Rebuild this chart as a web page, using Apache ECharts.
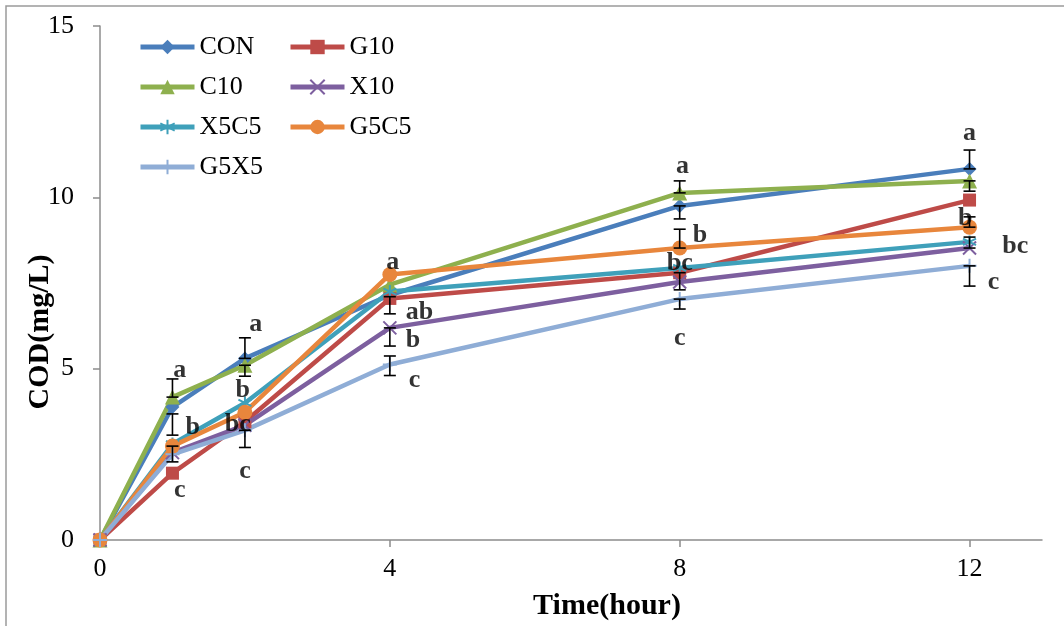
<!DOCTYPE html>
<html><head><meta charset="utf-8">
<script src="https://cdn.jsdelivr.net/npm/echarts@6/dist/echarts.min.js"></script>
<style>html,body{margin:0;padding:0;background:#fff}#c{width:1064px;height:626px}</style>
</head><body><div id="c"></div>
<script>
const times = [0, 1, 2, 4, 8, 12];
const seriesNames = ['CON','G10','C10','X10','X5C5','G5C5','G5X5'];
const CON  = [0, 3.88, 5.30, 7.15, 9.75, 10.83];
const G10  = [0, 1.95, 3.45, 7.05, 7.80, 9.92];
const C10  = [0, 4.17, 5.10, 7.45, 10.13, 10.48];
const X10  = [0, 2.55, 3.35, 6.19, 7.53, 8.52];
const X5C5 = [0, 2.80, 4.00, 7.25, 7.94, 8.70];
const G5C5 = [0, 2.74, 3.73, 7.75, 8.52, 9.13];
const G5X5 = [0, 2.50, 3.20, 5.12, 7.03, 8.00];
// error bars: [time, low, high]
const errorBars = [
  [1, 4.17, 4.70], [1, 3.06, 3.68], [1, 2.28, 2.74],
  [2, 5.30, 5.90], [2, 4.78, 5.10], [2, 2.70, 3.20],
  [4, 6.60, 7.10], [4, 5.66, 6.19], [4, 4.80, 5.37],
  [8, 10.13, 10.48], [8, 9.37, 9.75], [8, 8.52, 9.07], [8, 7.30, 7.80], [8, 6.74, 7.03],
  [12, 10.83, 11.38], [12, 10.18, 10.48], [12, 9.13, 9.43], [12, 8.52, 8.84], [12, 7.41, 8.00]
];
// significance letters: [time, value, text]
const letters = [
  [1.10, 4.96, 'a'], [1.28, 3.30, 'b'], [1.10, 1.46, 'c'],
  [2.15, 6.30, 'a'], [1.97, 4.38, 'b'], [1.90, 3.38, 'bc'], [2.00, 2.01, 'c'],
  [4.04, 8.11, 'a'], [4.41, 6.65, 'ab'], [4.32, 5.84, 'b'], [4.34, 4.67, 'c'],
  [8.04, 10.91, 'a'], [8.28, 8.90, 'b'], [8.00, 8.08, 'bc'], [8.00, 5.89, 'c'],
  [12.00, 11.88, 'a'], [11.94, 9.40, 'b'], [12.63, 8.58, 'bc'], [12.33, 7.53, 'c']
];
const xTicks = [0, 4, 8, 12];

const values = {CON, G10, C10, X10, X5C5, G5C5, G5X5};
const colors = {CON:'#4A7EBB', G10:'#BE4B48', C10:'#8EB04E', X10:'#7D5F9F', X5C5:'#3FA0BA', G5C5:'#E8863C', G5X5:'#8FADD6'};
const symbols = {
  CON:'diamond', G10:'rect', C10:'triangle',
  X10:'path://M0,0L10,10M10,0L0,10',
  X5C5:'path://M5,0L5,10M0,2.5L10,7.5M0,7.5L10,2.5',
  G5C5:'circle',
  G5X5:'path://M5,0L5,10M2,5L8,5'
};
const sizes = {CON:14, G10:13, C10:15, X10:13, X5C5:13, G5C5:15, G5X5:14};
const serif = 'Liberation Serif, Times New Roman, serif';

const lineSeries = seriesNames.map(n => {
  const isPath = symbols[n].startsWith('path');
  return {
    name: n, type: 'line', data: times.map((t,i)=>[t, values[n][i]]),
    symbol: symbols[n], symbolSize: sizes[n], showAllSymbol: true,
    lineStyle: {color: colors[n], width: 4.5},
    itemStyle: isPath ? {color: colors[n], borderColor: colors[n], borderWidth: 2} : {color: colors[n]},
    emphasis: {disabled: true}, animation: false, z: 3
  };
});

const legendBase = {orient:'vertical', top:29, itemWidth:54, itemHeight:18, itemGap:14,
  lineStyle:{width:5}, selectedMode:false,
  textStyle:{fontFamily:serif, fontSize:26, lineHeight:26, color:'#000'}};

const chart = echarts.init(document.getElementById('c'));
chart.setOption({
  animation: false,
  backgroundColor: '#fff',
  graphic: [{type:'rect', shape:{x:6, y:6, width:1200, height:800}, style:{fill:'none', stroke:'#9a9a9a', lineWidth:1.5}, silent:true, z:-1}],
  grid: {left: 100, right: 22, top: 26, bottom: 86},
  legend: [
    Object.assign({data:['CON','C10','X5C5','G5X5'], left:133}, legendBase),
    Object.assign({data:['G10','X10','G5C5'], left:283}, legendBase)
  ],
  xAxis: {
    type:'value', min:0, max:13, interval:4,
    name:'Time(hour)', nameLocation:'middle', nameGap:51,
    nameTextStyle:{fontFamily:serif, fontSize:30, fontWeight:'bold', color:'#000', padding:[0,0,0,72]},
    axisLine:{lineStyle:{color:'#8c8c8c', width:1.5}},
    axisTick:{customValues:xTicks, length:7, lineStyle:{color:'#8c8c8c', width:1.5}},
    axisLabel:{customValues:xTicks, fontFamily:serif, fontSize:26, color:'#000', margin:16},
    splitLine:{show:false}
  },
  yAxis: {
    type:'value', min:0, max:15, interval:5,
    name:'COD(mg/L)', nameLocation:'middle', nameGap:45, nameRotate:90, nameMoveOverlap:false,
    nameTextStyle:{fontFamily:serif, fontSize:30, fontWeight:'bold', color:'#000', padding:[0,98,0,0]},
    axisLine:{show:true, lineStyle:{color:'#8c8c8c', width:1.5}},
    axisTick:{show:true, length:7, lineStyle:{color:'#8c8c8c', width:1.5}},
    axisLabel:{fontFamily:serif, fontSize:26, color:'#000', margin:26},
    splitLine:{show:false}
  },
  series: [
    {
      type:'custom', name:'err', data: errorBars, z: 4, silent:true,
      encode:{x:0, y:[1,2]},
      renderItem: function(params, api){
        const lo = api.coord([api.value(0), api.value(1)]);
        const hi = api.coord([api.value(0), api.value(2)]);
        const w = 6;
        const st = {stroke:'#000', lineWidth:1.6};
        return {type:'group', children:[
          {type:'line', shape:{x1:lo[0], y1:lo[1], x2:hi[0], y2:hi[1]}, style:st},
          {type:'line', shape:{x1:lo[0]-w, y1:lo[1], x2:lo[0]+w, y2:lo[1]}, style:st},
          {type:'line', shape:{x1:hi[0]-w, y1:hi[1], x2:hi[0]+w, y2:hi[1]}, style:st}
        ]};
      }
    },
    ...lineSeries,
    {
      type:'scatter', name:'letters', data: letters, symbolSize:0, z:10, silent:true,
      encode:{x:0, y:1},
      label:{show:true, position:'inside', formatter: p => p.value[2],
        fontFamily:serif, fontSize:26, fontWeight:'bold', color:'#000'}
    }
  ]
});
</script></body></html>
